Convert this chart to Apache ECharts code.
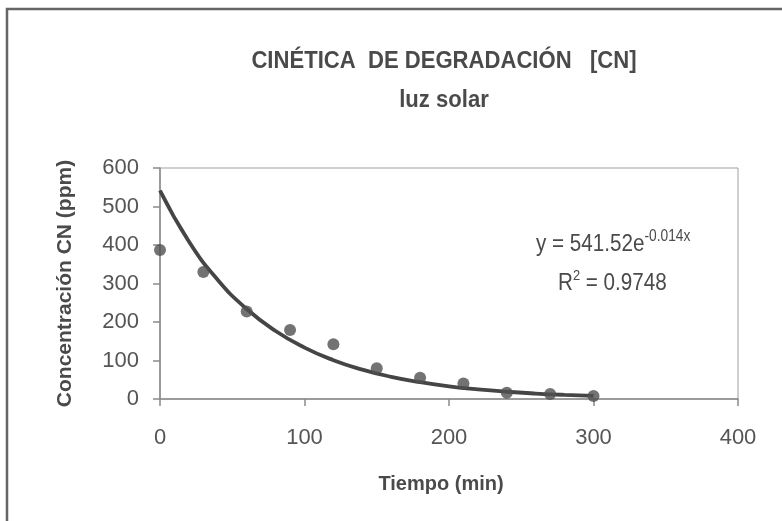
<!DOCTYPE html>
<html><head><meta charset="utf-8">
<script src="https://cdn.jsdelivr.net/npm/echarts@6/dist/echarts.min.js"></script>
<style>html,body{margin:0;padding:0;background:#fff}#c{width:782px;height:521px}</style>
</head><body><div id="c"></div>
<script>
// Measured data points (time in min, concentration in ppm)
const tiempo = [0, 30, 60, 90, 120, 150, 180, 210, 240, 270, 300];
const concentracion = [387, 330, 227, 179, 142, 80, 55, 40, 16, 13, 8];
// Exponential trendline values (y = 541.52e^-0.014x)
const trendX = [0, 20, 40, 60, 80, 100, 120, 140, 160, 180, 200, 220, 240, 260, 280, 300];
const trendY = [541.5, 409.3, 309.3, 233.8, 176.7, 133.5, 100.9, 76.3, 57.6, 43.6, 32.9, 24.9, 18.8, 14.2, 10.7, 8.1];
const xTicks = [0, 100, 200, 300, 400];
const yTicks = [0, 100, 200, 300, 400, 500, 600];

const FONT = '"Liberation Sans Narrow", "Arial Narrow", "Liberation Sans", Arial, sans-serif';
const TXT = '#4a4a4a';

const chart = echarts.init(document.getElementById('c'), null, {renderer: 'canvas'});
chart.setOption({
  backgroundColor: '#fff',
  animation: false,
  grid: {left: 160, top: 168, width: 578, height: 231, show: true, borderColor: '#a0a0a0', borderWidth: 1},
  xAxis: {
    type: 'value', min: xTicks[0], max: xTicks[xTicks.length - 1], interval: 100,
    name: 'Tiempo (min)', nameLocation: 'middle', nameGap: 75,
    nameTextStyle: {fontFamily: FONT, fontSize: 20, fontWeight: 'bold', color: TXT, padding: [0, 16, 0, 0]},
    axisLine: {show: true, lineStyle: {color: '#8a8a8a', width: 1.5}},
    axisTick: {show: true, inside: false, length: 7, lineStyle: {color: '#8a8a8a', width: 1.5}},
    axisLabel: {fontFamily: FONT, fontSize: 22, color: '#555', margin: 28},
    splitLine: {show: false}
  },
  yAxis: {
    type: 'value', min: yTicks[0], max: yTicks[yTicks.length - 1], interval: 100,
    name: 'Concentración CN (ppm)', nameLocation: 'middle', nameGap: 84,
    nameTextStyle: {fontFamily: FONT, fontSize: 21, fontWeight: 'bold', color: TXT},
    axisLine: {show: true, lineStyle: {color: '#8a8a8a', width: 1.5}},
    axisTick: {show: true, inside: false, length: 7, lineStyle: {color: '#8a8a8a', width: 1.5}},
    axisLabel: {fontFamily: FONT, fontSize: 22, color: '#555', margin: 21},
    splitLine: {show: false}
  },
  series: [{
    type: 'line', name: 'trend', smooth: true, showSymbol: false, symbol: 'none',
    data: trendX.map((x, i) => [x, trendY[i]]),
    lineStyle: {color: '#454545', width: 3.8}, z: 2
  }, {
    type: 'scatter', name: 'CN',
    data: tiempo.map((x, i) => [x, concentracion[i]]),
    symbol: 'circle', symbolSize: 12, clip: false,
    itemStyle: {color: '#505050'}, z: 3
  }],
  graphic: [{
    type: 'rect', shape: {x: 7, y: 9, width: 820, height: 600},
    style: {fill: 'none', stroke: '#666', lineWidth: 2.5}, silent: true
  }, {
    type: 'text', x: 444, y: 49, scaleX: 0.92,
    style: {text: 'CINÉTICA  DE DEGRADACIÓN   [CN]', textAlign: 'center',
      fontFamily: FONT, fontSize: 24, fontWeight: 'bold', fill: TXT}
  }, {
    type: 'text', x: 444, y: 88, scaleX: 0.92,
    style: {text: 'luz solar', textAlign: 'center',
      fontFamily: FONT, fontSize: 24, fontWeight: 'bold', fill: TXT}
  }, {
    type: 'text', x: 536, y: 230, scaleX: 0.86,
    style: {
      text: '{b|y = 541.52e}{s|-0.014x}',
      rich: {
        b: {fontFamily: FONT, fontSize: 24, fill: TXT, lineHeight: 28},
        s: {fontFamily: FONT, fontSize: 16, fill: TXT, lineHeight: 28, padding: [0, 0, 14, 0]}
      }
    }
  }, {
    type: 'text', x: 558, y: 269, scaleX: 0.86,
    style: {
      text: '{b|R}{s|2}{b| = 0.9748}',
      rich: {
        b: {fontFamily: FONT, fontSize: 24, fill: TXT, lineHeight: 28},
        s: {fontFamily: FONT, fontSize: 15, fill: TXT, lineHeight: 28, padding: [0, 0, 14, 0]}
      }
    }
  }]
});
</script></body></html>
